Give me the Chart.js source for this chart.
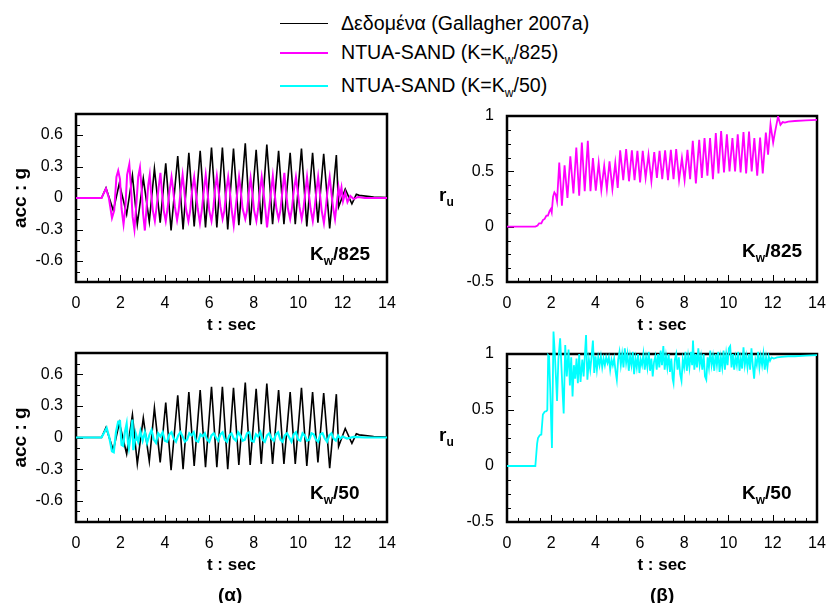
<!DOCTYPE html>
<html>
<head>
<meta charset="utf-8">
<script src="https://cdn.jsdelivr.net/npm/chart.js@4.4.0/dist/chart.umd.min.js"></script>
<style>
  body { margin: 0; background: #fff; font-family: "Liberation Sans", Arial, sans-serif; }
  #page { position: relative; width: 827px; height: 603px; overflow: hidden; background: #fff; }
  canvas { position: absolute; }
  .txt { position: absolute; white-space: nowrap; color: #000; }
  .leg { font-size: 19.6px; line-height: 19px; }
  .leg sub, .kw sub, .ru sub { font-size: 12px; vertical-align: -5px; line-height: 0; }
  .kw { font-size: 19px; line-height: 19px; font-weight: bold; }
  .ru { font-size: 19px; line-height: 19px; font-weight: bold; }
  .cap { font-size: 19px; line-height: 19px; font-weight: bold; }
  .line { position: absolute; left: 280px; width: 48px; }
</style>
</head>
<body>
<div id="page">
  <div class="line" style="top:23px;border-top:1.6px solid #000;"></div>
  <div class="txt leg" style="left:341px;top:14px;">Δεδομένα (Gallagher 2007a)</div>
  <div class="line" style="top:52px;border-top:2px solid #ff00ff;"></div>
  <div class="txt leg" style="left:341px;top:43px;">NTUA-SAND (K=K<sub>w</sub>/825)</div>
  <div class="line" style="top:85px;border-top:2px solid #00ffff;"></div>
  <div class="txt leg" style="left:341px;top:76px;">NTUA-SAND (K=K<sub>w</sub>/50)</div>

  <canvas id="accTop" width="410" height="242" style="left:0;top:100px;"></canvas>
  <canvas id="ruTop" width="407" height="242" style="left:420px;top:100px;"></canvas>
  <canvas id="accBot" width="410" height="243" style="left:0;top:339px;"></canvas>
  <canvas id="ruBot" width="407" height="262" style="left:420px;top:320px;"></canvas>

  <div class="txt ru" style="left:439px;top:185px;">r<sub>u</sub></div>
  <div class="txt ru" style="left:439px;top:425px;">r<sub>u</sub></div>

  <div class="txt kw" style="left:310px;top:244px;">K<sub>w</sub>/825</div>
  <div class="txt kw" style="left:742px;top:241px;">K<sub>w</sub>/825</div>
  <div class="txt kw" style="left:310px;top:483px;">K<sub>w</sub>/50</div>
  <div class="txt kw" style="left:742px;top:483px;">K<sub>w</sub>/50</div>

  <div class="txt cap" style="left:218px;top:585px;">(α)</div>
  <div class="txt cap" style="left:650px;top:585px;">(β)</div>
</div>
<script>
// time : sec, value pairs
const recorded = [[0,0],[1.15,0],[1.35,0.095],[1.68,-0.12],[1.95,0.14],[2.28,-0.155],[2.54,0.215],[2.76,-0.25],
  [3.03,0.185],[3.30,-0.225],[3.53,0.28],[3.79,-0.235],[4.04,0.33],[4.28,-0.31],[4.58,0.40],[4.82,-0.30],
  [5.08,0.43],[5.32,-0.27],[5.59,0.45],[5.83,-0.28],[6.10,0.48],[6.34,-0.28],[6.59,0.48],[6.83,-0.30],
  [7.09,0.47],[7.33,-0.26],[7.62,0.52],[7.84,-0.26],[8.11,0.46],[8.34,-0.25],[8.59,0.51],[8.85,-0.25],
  [9.12,0.45],[9.36,-0.25],[9.64,0.43],[9.87,-0.25],[10.15,0.47],[10.39,-0.27],[10.65,0.43],[10.89,-0.235],
  [11.15,0.42],[11.42,-0.29],[11.72,0.41],[11.82,-0.085],[12.12,0.085],[12.42,-0.055],[12.62,0.035],
  [12.75,0.025],[13.4,0.01],[14,0.005]];

const acc825 = [[0,0],[1.15,0],[1.35,0.09],[1.48,0],[1.62,-0.19],[1.72,-0.12],[1.82,0.2],[1.9,0.26],[1.98,0.18],
  [2.05,-0.1],[2.14,-0.25],[2.22,-0.1],[2.3,0.22],[2.4,0.32],[2.47,0.12],[2.55,-0.18],[2.63,-0.3],[2.72,-0.05],
  [2.8,0.2],[2.88,0.29],[2.95,0.1],[3.02,-0.15],[3.1,-0.31],[3.18,-0.08],[3.25,0.12],[3.32,0.22],[3.38,0.05],
  [3.46,-0.12],[3.55,-0.22],[3.62,-0.1],[3.72,0.1],[3.8,0.24],[3.86,0.08],[3.95,-0.12],[4.04,-0.22],[4.12,-0.1],
  [4.2,0.05],[4.3,0.2],[4.36,0.1],[4.45,-0.08],[4.55,-0.21],[4.62,-0.12],[4.72,0.08],[4.8,0.22],[4.86,0.1],
  [4.95,-0.1],[5.06,-0.22],[5.14,-0.12],[5.22,0.06],[5.32,0.2],[5.38,0.08],[5.48,-0.1],[5.58,-0.24],[5.66,-0.12],
  [5.74,0.04],[5.84,0.22],[5.9,0.1],[6.0,-0.12],[6.1,-0.22],[6.18,-0.1],[6.26,0.08],[6.34,0.21],[6.4,0.1],
  [6.5,-0.08],[6.6,-0.2],[6.68,-0.12],[6.76,0.06],[6.85,0.2],[6.92,0.08],[7.0,-0.1],[7.1,-0.26],[7.18,-0.1],
  [7.26,0.05],[7.34,0.2],[7.4,0.1],[7.5,-0.1],[7.62,-0.2],[7.7,-0.12],[7.78,0.05],[7.86,0.19],[7.92,0.08],
  [8.02,-0.12],[8.12,-0.22],[8.2,-0.1],[8.28,0.06],[8.36,0.2],[8.42,0.1],[8.52,-0.1],[8.6,-0.28],[8.68,-0.12],
  [8.78,0.06],[8.86,0.21],[8.92,0.08],[9.02,-0.1],[9.12,-0.2],[9.2,-0.12],[9.28,0.04],[9.38,0.24],[9.44,0.08],
  [9.54,-0.1],[9.64,-0.2],[9.72,-0.1],[9.8,0.06],[9.9,0.2],[9.96,0.1],[10.06,-0.08],[10.16,-0.2],[10.24,-0.1],
  [10.32,0.05],[10.4,0.2],[10.46,0.08],[10.56,-0.1],[10.66,-0.22],[10.74,-0.1],[10.82,0.06],[10.9,0.2],
  [10.96,0.08],[11.06,-0.12],[11.16,-0.24],[11.24,-0.1],[11.32,0.06],[11.42,0.2],[11.48,0.08],[11.58,-0.1],
  [11.66,-0.2],[11.74,-0.05],[11.82,0.1],[11.88,0.02],[11.95,0.1],[12.02,-0.03],[12.12,0.05],[12.22,-0.04],
  [12.35,0.02],[12.5,-0.01],[12.7,0.01],[13.0,0],[14,0]];

const acc50 = [[0,0],[1.15,0],[1.38,0.09],[1.5,0],[1.62,-0.13],[1.7,-0.14],[1.8,0.05],[1.9,0.15],[1.98,0.155],
  [2.05,-0.07],[2.12,-0.08],[2.2,0.05],[2.28,0.13],[2.34,-0.05],[2.38,-0.1],[2.46,0.02],[2.54,0.17],[2.58,-0.12],
  [2.66,-0.02],[2.7,0.03],[2.8,-0.04],[2.9,0.06],[3.0,-0.03],[3.1,0.05],[3.2,-0.05],[3.3,0.02],[3.4,0.07],
  [3.5,-0.02],[3.6,-0.05],[3.7,0.04],[3.8,0.01],[3.9,0.05],[4.0,-0.03],[4.1,-0.04],[4.2,0.03],[4.3,0.05],
  [4.4,-0.01],[4.5,-0.04],[4.6,0.02],[4.7,0.05],[4.8,0.01],[4.9,-0.04],[5.0,-0.02],[5.1,0.04],[5.2,0.02],
  [5.3,0.05],[5.4,-0.03],[5.5,-0.04],[5.6,0.03],[5.7,0.01],[5.8,0.04],[5.9,-0.02],[6.0,-0.04],[6.1,0.02],
  [6.2,0.04],[6.3,0],[6.4,-0.03],[6.5,0.03],[6.6,0.05],[6.7,-0.02],[6.8,-0.04],[6.9,0.02],[7.0,0.04],
  [7.1,-0.01],[7.2,-0.03],[7.3,0.05],[7.4,0.02],[7.5,-0.03],[7.6,-0.02],[7.7,0.04],[7.8,0.05],[7.9,-0.03],
  [8.0,-0.04],[8.1,0.03],[8.2,0.01],[8.3,0.05],[8.4,-0.02],[8.5,-0.04],[8.6,0.02],[8.7,0.04],[8.8,-0.01],
  [8.9,-0.03],[9.0,0.03],[9.1,0.05],[9.2,-0.02],[9.3,-0.04],[9.4,0.02],[9.5,0.04],[9.6,0],[9.7,-0.04],
  [9.8,0.03],[9.9,0.05],[10.0,-0.02],[10.1,-0.03],[10.2,0.04],[10.3,0.02],[10.4,-0.03],[10.5,-0.02],
  [10.6,0.04],[10.7,0.03],[10.8,-0.02],[10.9,-0.04],[11.0,0.03],[11.1,0.04],[11.2,-0.01],[11.3,-0.04],
  [11.4,0.02],[11.5,0.04],[11.6,-0.01],[11.7,-0.03],[11.8,0.02],[11.9,-0.01],[12.0,0.01],[12.2,-0.01],
  [12.5,0.005],[13,0],[14,0]];

const ru825 = [[0,0],[1.28,0],[1.38,0.01],[1.45,0.03],[1.55,0.03],[1.62,0.06],[1.7,0.07],[1.78,0.1],[1.85,0.1],
  [1.92,0.14],[1.98,0.16],[2.02,0.13],[2.08,0.27],[2.14,0.31],[2.2,0.29],[2.26,0.23],[2.36,0.58],[2.48,0.19],
  [2.6,0.555],[2.73,0.26],[2.86,0.635],[3.0,0.3],[3.13,0.715],[3.26,0.28],[3.38,0.76],[3.51,0.32],[3.65,0.775],
  [3.77,0.32],[3.88,0.62],[4.01,0.325],[4.14,0.575],[4.26,0.33],[4.39,0.55],[4.51,0.34],[4.63,0.59],[4.76,0.34],
  [4.89,0.575],[5.0,0.35],[5.11,0.69],[5.25,0.42],[5.38,0.70],[5.51,0.41],[5.64,0.69],[5.76,0.42],[5.89,0.685],
  [6.01,0.40],[6.13,0.685],[6.26,0.44],[6.39,0.65],[6.52,0.41],[6.65,0.675],[6.77,0.44],[6.89,0.685],[7.01,0.43],
  [7.14,0.69],[7.27,0.42],[7.4,0.695],[7.52,0.43],[7.64,0.70],[7.77,0.42],[7.9,0.62],[8.02,0.42],[8.15,0.695],
  [8.27,0.43],[8.39,0.775],[8.53,0.39],[8.68,0.785],[8.8,0.44],[8.92,0.80],[9.05,0.46],[9.17,0.80],[9.3,0.43],
  [9.43,0.845],[9.55,0.48],[9.67,0.865],[9.8,0.49],[9.93,0.835],[10.05,0.5],[10.18,0.80],[10.3,0.5],[10.42,0.835],
  [10.55,0.49],[10.68,0.855],[10.8,0.48],[10.93,0.86],[11.05,0.5],[11.17,0.80],[11.3,0.46],[11.43,0.805],
  [11.55,0.48],[11.69,0.85],[11.79,0.65],[11.9,0.925],[12.02,0.76],[12.1,0.85],[12.24,0.995],[12.35,0.92],
  [12.45,0.945],[12.55,0.94],[12.7,0.95],[13.0,0.955],[13.5,0.96],[14,0.965]];

const ru50 = [[0,0],[1.28,0],[1.36,0.2],[1.4,0.25],[1.48,0.275],[1.55,0.28],[1.62,0.46],[1.7,0.485],[1.78,0.49],
  [1.82,0.5],[1.86,0.99],[1.9,0.98],[1.95,0.7],[2.03,0.16],[2.1,1.2],[2.16,1.0],[2.22,0.75],[2.26,0.58],[2.32,0.95],
  [2.4,1.14],[2.46,0.88],[2.52,0.62],[2.56,0.47],[2.63,1.08],[2.7,0.8],[2.78,1.04],[2.84,0.72],[2.9,0.97],
  [2.96,0.62],[3.02,0.9],[3.08,0.78],[3.14,0.96],[3.2,0.74],[3.26,1.0],[3.32,0.75],[3.4,0.95],[3.46,0.8],
  [3.52,1.0],[3.57,1.17],[3.63,0.77],[3.7,0.95],[3.76,0.86],[3.82,0.98],[3.88,1.12],[3.94,0.83],[4.0,0.98],
  [4.06,0.86],[4.12,0.97],[4.18,0.9],[4.24,0.98],[4.3,0.88],[4.36,0.96],[4.42,0.9],[4.48,0.97],[4.54,0.92],
  [4.6,0.97],[4.66,0.86],[4.72,0.95],[4.78,0.9],[4.84,0.96],[4.9,0.85],[4.96,0.77],[5.02,0.95],[5.08,1.02],
  [5.14,0.9],[5.2,1.0],[5.26,0.88],[5.32,1.05],[5.38,0.92],[5.44,1.0],[5.5,0.85],[5.56,0.98],[5.62,0.9],
  [5.68,1.02],[5.74,0.82],[5.8,0.96],[5.86,0.88],[5.92,1.0],[5.98,0.83],[6.04,0.95],[6.1,0.9],[6.16,1.0],
  [6.22,0.86],[6.28,0.97],[6.34,0.88],[6.4,1.02],[6.46,0.85],[6.52,0.96],[6.58,0.8],[6.64,0.93],[6.7,0.98],
  [6.76,0.86],[6.82,1.0],[6.88,0.88],[6.94,1.03],[7.0,0.9],[7.06,1.07],[7.12,0.86],[7.18,0.98],[7.24,0.88],
  [7.3,1.0],[7.36,0.84],[7.42,0.96],[7.48,0.78],[7.52,0.74],[7.58,0.95],[7.64,1.0],[7.7,0.86],[7.76,0.97],
  [7.82,0.82],[7.88,0.76],[7.94,0.95],[8.0,0.88],[8.06,1.02],[8.12,0.85],[8.18,0.98],[8.24,0.88],[8.3,1.02],
  [8.36,0.9],[8.4,1.12],[8.46,0.86],[8.52,1.0],[8.58,0.88],[8.64,1.05],[8.7,0.9],[8.76,0.98],[8.82,0.86],
  [8.88,1.0],[8.94,0.8],[9.0,0.77],[9.06,0.97],[9.12,0.88],[9.18,1.03],[9.24,0.9],[9.3,0.98],[9.36,0.85],
  [9.42,1.0],[9.48,0.9],[9.54,1.02],[9.6,0.84],[9.66,0.97],[9.72,0.88],[9.78,1.03],[9.84,0.86],[9.9,1.0],
  [9.96,0.9],[10.02,1.05],[10.08,1.07],[10.14,0.88],[10.2,1.0],[10.26,0.86],[10.32,0.97],[10.38,0.9],
  [10.44,1.02],[10.5,0.85],[10.56,0.96],[10.62,0.87],[10.68,1.06],[10.74,0.9],[10.8,0.98],[10.86,0.88],
  [10.92,1.0],[10.98,0.86],[11.04,1.05],[11.1,0.9],[11.16,0.78],[11.22,0.95],[11.28,0.9],[11.34,1.02],
  [11.4,0.88],[11.46,0.98],[11.52,0.9],[11.58,1.0],[11.64,0.86],[11.7,0.97],[11.76,0.88],[11.82,0.98],
  [11.88,0.94],[11.95,0.97],[12.05,0.96],[12.2,0.97],[12.4,0.975],[12.7,0.98],[13.0,0.98],[13.5,0.985],[14,0.99]];

const timeTicks = [0, 2, 4, 6, 8, 10, 12, 14];
const accTicks = [-0.6, -0.3, 0, 0.3, 0.6];
const ruTicks = [-0.5, 0, 0.5, 1];

Chart.defaults.font.family = '"Liberation Sans", Arial, sans-serif';
Chart.defaults.color = '#000';

const pts = arr => arr.map(p => ({ x: p[0], y: p[1] }));

// thick box plus small inward ticks on left and bottom edges
const framePlugin = {
  id: 'frame',
  beforeDatasetsDraw(chart, args, opts) {
    const { ctx, chartArea: a, scales: { x, y } } = chart;
    ctx.save();
    ctx.strokeStyle = '#000';
    ctx.lineWidth = 1;
    ctx.beginPath();
    for (let i = 0; i <= 28; i++) {
      const px = Math.round(x.getPixelForValue(i * 0.5)) + 0.5;
      const len = i % 4 === 0 ? 7 : 4;
      ctx.moveTo(px, a.bottom);
      ctx.lineTo(px, a.bottom - len);
    }
    const n = Math.round((y.max - y.min) / opts.minor);
    for (let i = 0; i <= n; i++) {
      const v = y.min + i * opts.minor;
      const py = Math.round(y.getPixelForValue(v)) + 0.5;
      const major = opts.major.some(m => Math.abs(m - v) < 1e-6);
      ctx.moveTo(a.left, py);
      ctx.lineTo(a.left + (major ? 7 : 4), py);
    }
    ctx.stroke();
    ctx.lineWidth = 2.5;
    ctx.strokeRect(a.left, a.top, a.right - a.left, a.bottom - a.top);
    ctx.restore();
  }
};

function noPad(s) {
  s.paddingTop = 0; s.paddingBottom = 0; s.paddingLeft = 0; s.paddingRight = 0;
}

function makePanel(id, o) {
  return new Chart(document.getElementById(id), {
    type: 'line',
    data: { datasets: o.datasets },
    options: {
      responsive: false,
      animation: false,
      events: [],
      layout: { padding: o.padding },
      plugins: {
        legend: { display: false },
        tooltip: { enabled: false },
        frame: { minor: o.minor, major: o.ticks }
      },
      elements: { point: { radius: 0 }, line: { tension: 0 } },
      scales: {
        x: {
          type: 'linear', min: 0, max: 14,
          afterFit: s => { s.height = 60; noPad(s); },
          afterBuildTicks: s => { s.ticks = timeTicks.map(v => ({ value: v })); },
          grid: { display: false, drawTicks: false },
          border: { display: false },
          ticks: { padding: 12, autoSkip: false, maxRotation: 0, font: { size: 16 }, color: '#000' },
          title: { display: true, text: 't : sec', font: { size: 17, weight: 'bold' }, color: '#000', padding: { top: 0, bottom: 6 } }
        },
        y: {
          type: 'linear', min: o.min, max: o.max,
          afterFit: s => { s.width = o.yWidth; noPad(s); },
          afterBuildTicks: s => { s.ticks = o.ticks.map(v => ({ value: v })); },
          grid: { display: false, drawTicks: false },
          border: { display: false },
          ticks: { padding: 13, font: { size: 16 }, color: '#000', callback: v => String(v) },
          title: { display: o.yTitle !== '', text: o.yTitle, font: { size: 19, weight: 'bold' }, color: '#000', padding: { top: 9, bottom: 0 } }
        }
      }
    },
    plugins: [framePlugin]
  });
}

const blackSet = { borderColor: '#000', borderWidth: 1.6, order: 2 };

makePanel('accTop', {
  padding: { left: 0, right: 23, top: 14, bottom: 0 }, yWidth: 76,
  min: -0.8, max: 0.8, ticks: accTicks, minor: 0.1, yTitle: 'acc : g',
  datasets: [
    { ...blackSet, data: pts(recorded) },
    { data: pts(acc825), borderColor: '#ff00ff', borderWidth: 2, order: 1 }
  ]
});

makePanel('accBot', {
  padding: { left: 0, right: 23, top: 14, bottom: 0 }, yWidth: 76,
  min: -0.8, max: 0.8, ticks: accTicks, minor: 0.1, yTitle: 'acc : g',
  datasets: [
    { ...blackSet, data: pts(recorded) },
    { data: pts(acc50), borderColor: '#00ffff', borderWidth: 2.2, order: 1 }
  ]
});

makePanel('ruTop', {
  padding: { left: 0, right: 10, top: 16, bottom: 0 }, yWidth: 87,
  min: -0.5, max: 1, ticks: ruTicks, minor: 0.125, yTitle: '',
  datasets: [
    { data: pts(ru825), borderColor: '#ff00ff', borderWidth: 1.8 }
  ]
});

makePanel('ruBot', {
  padding: { left: 0, right: 10, top: 34, bottom: 0 }, yWidth: 87,
  min: -0.5, max: 1, ticks: ruTicks, minor: 0.125, yTitle: '',
  datasets: [
    { data: pts(ru50), borderColor: '#00ffff', borderWidth: 1.8, clip: false }
  ]
});
</script>
</body>
</html>
